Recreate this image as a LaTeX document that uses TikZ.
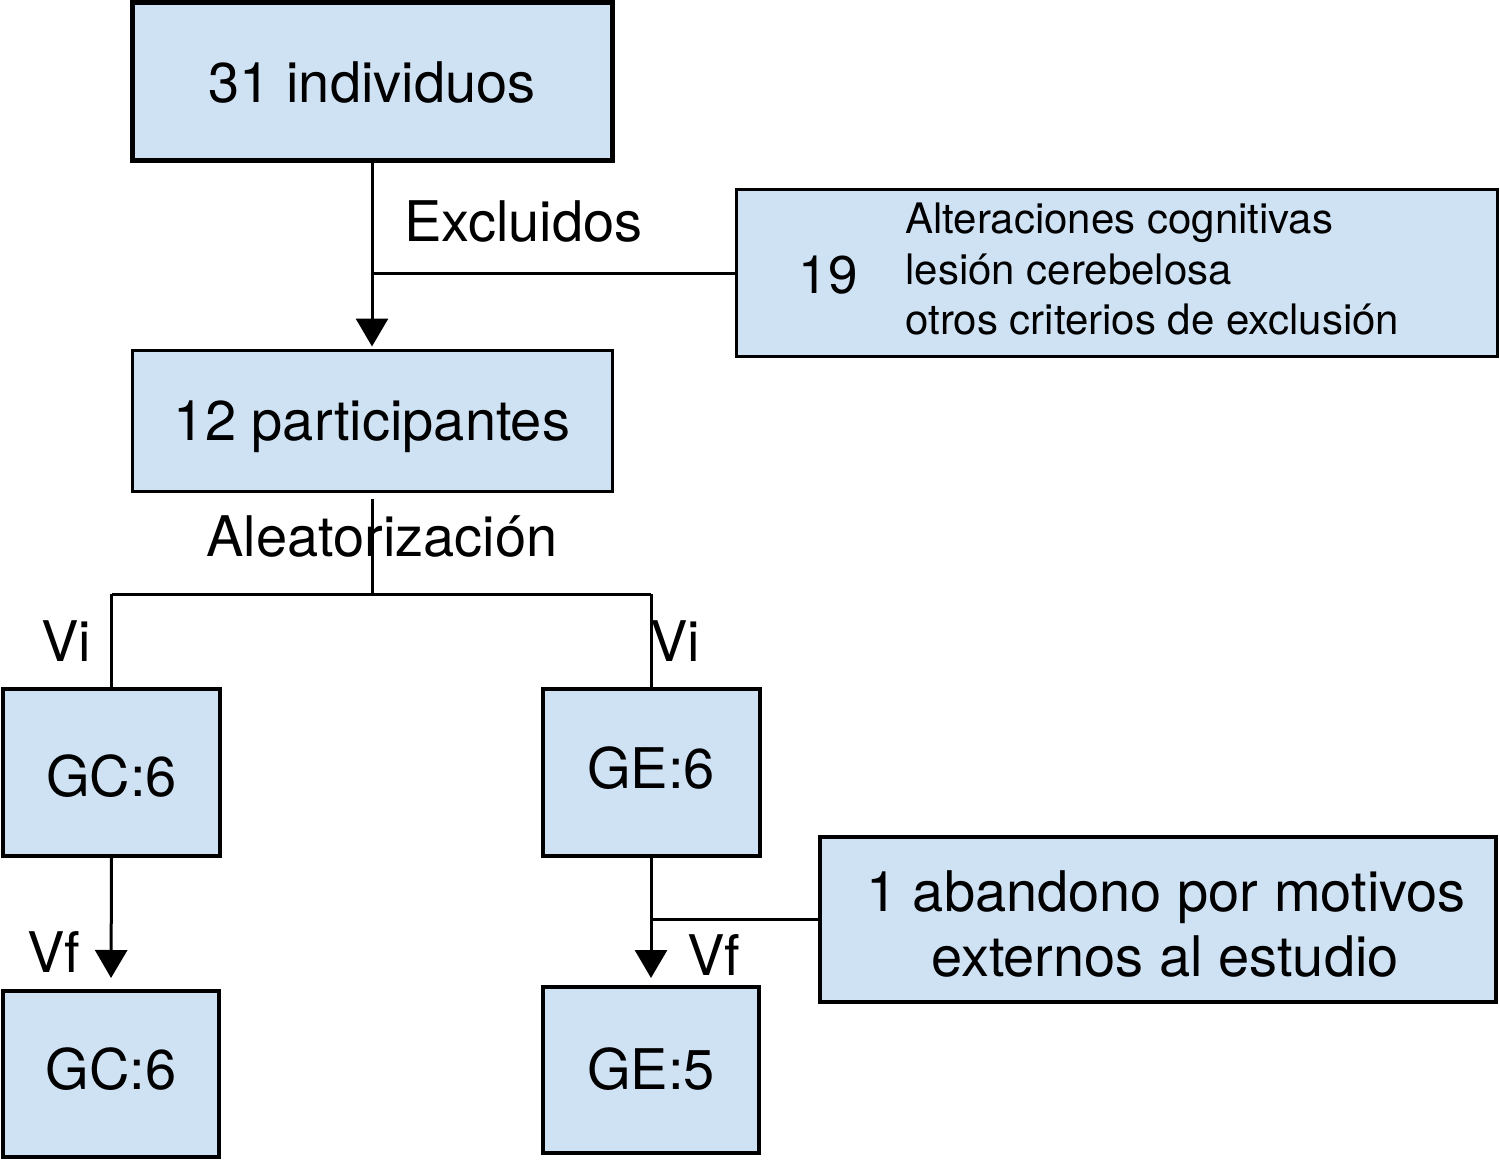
\documentclass[tikz,border=0pt]{standalone}
\usepackage{fontspec}
\setmainfont{TeX Gyre Heros}
\usetikzlibrary{arrows.meta}
\definecolor{boxblue}{RGB}{207,226,243}
\newcommand\bigfnt{\fontsize{28}{33}\selectfont}
\newcommand\smallfnt{\fontsize{21}{25}\selectfont}
\tikzset{
  box/.style={draw=black, fill=boxblue, rectangle, inner sep=0pt, font=\bigfnt, text depth=0pt},
  lbl/.style={inner sep=0pt, font=\bigfnt},
  slbl/.style={inner sep=0pt, font=\smallfnt, anchor=base west},
  conn/.style={line width=1.5pt, draw=black},
  arr/.style={conn, -{Triangle[width=16pt,length=14pt]}}
}
\begin{document}
\begin{tikzpicture}[x=0.5pt,y=-0.5pt]
\useasboundingbox (0,0) rectangle (1500,1161);
% boxes
\node[box, line width=2.5pt, minimum width=240pt, minimum height=79pt, text height=21pt] (b1) at (372,82) {31 individuos};
\node[box, line width=1.5pt, minimum width=240pt, minimum height=70.5pt, text height=19.5pt] (b2) at (372,420.5) {12 participantes};
\node[box, line width=1.5pt, minimum width=380.5pt, minimum height=83pt] (b19) at (1116.5,273) {};
\node[box, line width=2pt, minimum width=108.5pt, minimum height=83.5pt, text height=23.5pt] (gc1) at (111.5,772.5) {GC:6};
\node[box, line width=2pt, minimum width=108.5pt, minimum height=83.5pt, text height=16pt] (ge1) at (651,772.5) {GE:6};
\node[box, line width=2pt, minimum width=108pt, minimum height=83pt, text height=15pt] (gc2) at (111,1074) {GC:6};
\node[box, line width=2pt, minimum width=108pt, minimum height=83pt, text height=19pt] (ge2) at (651,1070) {GE:5};
\node[box, line width=2pt, minimum width=338pt, minimum height=82.5pt] (ab) at (1158,919.5) {};
% texts in boxes
\node[lbl, anchor=base, font=\fontsize{26.5}{30}\selectfont] (n19) at (828,293) {19};
\node[slbl] (t1) at (905,234) {Alteraciones cognitivas};
\node[slbl] (t2) at (905,284) {lesión cerebelosa};
\node[slbl] (t3) at (905,334) {otros criterios de exclusión};
\node[lbl, anchor=base] (a1) at (1166,911) {1 abandono por motivos};
\node[lbl, anchor=base] (a2) at (1165,976) {externos al estudio};
% connectors
\draw[arr, shorten >=1pt] (b1.south) -- (b2.north);
\coordinate (j1) at (b1.south |- b19.west);
\draw[conn] (j1) -- (b19.west);
\coordinate (j2) at (372,594);
\coordinate (jl) at (gc1.north |- j2);
\coordinate (jr) at (ge1.north |- j2);
\draw[conn, shorten <=3pt] (b2.south) -- (j2);
\draw[conn] (jl) -- (jr);
\draw[conn] (jl) -- (gc1.north);
\draw[conn] (jr) -- (ge1.north);
\draw[arr, shorten >=5.5pt] (gc1.south) -- (gc2.north);
\draw[arr, shorten >=3.5pt] (ge1.south) -- (ge2.north);
\coordinate (j3) at (ge1.south |- ab.west);
\draw[conn] (j3) -- (ab.west);
% labels
\node[lbl, anchor=base west] (lex) at (404,242) {Excluidos};
\node[lbl, anchor=base] (lal) at (382,556) {Aleatorización};
\node[lbl, anchor=base west] (vi1) at (41,661) {Vi};
\node[lbl, anchor=base west] (vi2) at (650,661) {Vi};
\node[lbl, anchor=base west] (vf1) at (27,972) {Vf};
\node[lbl, anchor=base west] (vf2) at (687,975) {Vf};
\end{tikzpicture}
\end{document}
